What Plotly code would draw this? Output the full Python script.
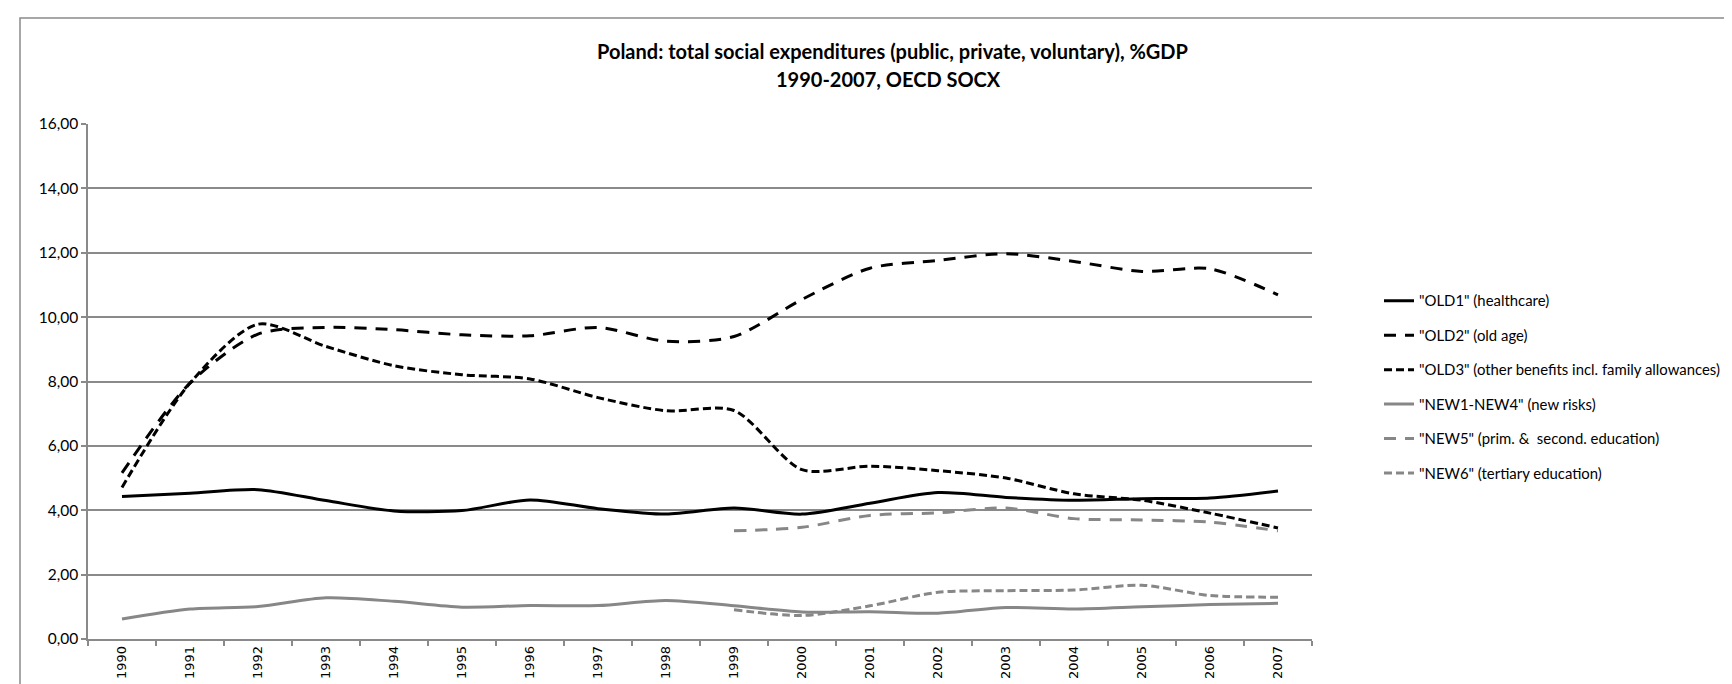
import plotly.graph_objects as go

years = [str(y) for y in range(1990, 2008)]

old1_healthcare = [4.43, 4.53, 4.64, 4.30, 3.98, 3.99, 4.32, 4.05, 3.88, 4.07,
                   3.88, 4.22, 4.55, 4.40, 4.31, 4.36, 4.38, 4.60]
old2_old_age = [5.16, 7.95, 9.47, 9.68, 9.61, 9.45, 9.42, 9.68, 9.25, 9.40,
                10.55, 11.52, 11.76, 11.97, 11.73, 11.42, 11.50, 10.69]
old3_other = [4.71, 7.95, 9.78, 9.09, 8.49, 8.21, 8.08, 7.50, 7.09, 7.10,
              5.26, 5.37, 5.23, 5.00, 4.51, 4.31, 3.91, 3.45]
new1_4_new_risks = [0.62, 0.93, 1.01, 1.28, 1.17, 0.99, 1.04, 1.04, 1.20, 1.03,
                    0.84, 0.85, 0.80, 0.98, 0.93, 1.00, 1.07, 1.11]
new5_prim_second = [None] * 9 + [3.36, 3.47, 3.84, 3.92, 4.07, 3.74, 3.70, 3.63, 3.36]
new6_tertiary = [None] * 9 + [0.91, 0.73, 1.03, 1.45, 1.50, 1.52, 1.67, 1.35, 1.30]

series_names = [
    '"OLD1" (healthcare)',
    '"OLD2" (old age)',
    '"OLD3" (other benefits incl. family allowances)',
    '"NEW1-NEW4" (new risks)',
    '"NEW5" (prim. &  second. education)',
    '"NEW6" (tertiary education)',
]
series_values = [old1_healthcare, old2_old_age, old3_other,
                 new1_4_new_risks, new5_prim_second, new6_tertiary]

title_line1 = "Poland: total social expenditures (public, private, voluntary), %GDP"
title_line2 = "1990-2007, OECD SOCX"

BLACK = "#000000"
GRAY = "#878787"
styles = [
    (BLACK, "solid"),
    (BLACK, "12px,9px"),
    (BLACK, "8px,4px"),
    (GRAY, "solid"),
    (GRAY, "12px,9px"),
    (GRAY, "8px,4px"),
]

fig = go.Figure()
for i, (name, vals) in enumerate(zip(series_names, series_values)):
    color, dash = styles[i]
    fig.add_trace(go.Scatter(
        x=years, y=vals, name=name, mode="lines",
        line=dict(color=color, width=3, dash=dash, shape="spline", smoothing=0.8),
        legendgroup=f"g{i}", connectgaps=False,
    ))

W, H = 1732, 684
L, R, T, B = 80, 428, 116, 53
pw, ph = W - L - R, H - T - B


def px_to_paper_x(px):
    return (px - L) / pw


def px_to_paper_y(py):
    return (H - B - py) / ph


AXIS_GRAY = "#8a8a8a"

fig.update_layout(
    width=W, height=H,
    margin=dict(l=L, r=R, t=T, b=B, autoexpand=False),
    paper_bgcolor="white", plot_bgcolor="white",
    separators=",.",
    showlegend=True,
    legend=dict(
        x=px_to_paper_x(1371), xanchor="left",
        y=px_to_paper_y(379), yanchor="middle",
        font=dict(family="Lato", size=14.9, color="#000000"),
        tracegroupgap=12.1, traceorder="grouped",
        bgcolor="rgba(0,0,0,0)",
    ),
    xaxis=dict(
        type="category", range=[-0.5, 17.5],
        showgrid=False, showline=True, linecolor=AXIS_GRAY, linewidth=1.5,
        ticks="outside", ticklen=5, tickcolor=AXIS_GRAY, tickwidth=1.5,
        tickson="boundaries", tickangle=-90,
        tickfont=dict(family="DejaVu Sans", size=13, color="#000000"),
        fixedrange=True,
    ),
    yaxis=dict(
        range=[0, 16], dtick=2, tick0=0, tickformat=".2f",
        showgrid=True, gridcolor=AXIS_GRAY, gridwidth=1.5,
        showline=True, linecolor=AXIS_GRAY, linewidth=1.5,
        ticks="outside", ticklen=5, tickcolor=AXIS_GRAY, tickwidth=1.5,
        tickfont=dict(family="Lato", size=15.5, color="#000000"),
        zeroline=False, fixedrange=True,
    ),
    shapes=[dict(
        type="rect", xref="paper", yref="paper",
        x0=px_to_paper_x(12), x1=px_to_paper_x(1730),
        y0=px_to_paper_y(690), y1=px_to_paper_y(10),
        line=dict(color=AXIS_GRAY, width=1.5), fillcolor="rgba(0,0,0,0)",
        layer="below",
    )],
    annotations=[
        dict(text=f"<b>{title_line1}</b>", xref="paper", yref="paper",
             x=px_to_paper_x(884), y=px_to_paper_y(43), xanchor="center", yanchor="middle",
             showarrow=False, font=dict(family="Lato", size=20, color="#000000")),
        dict(text=f"<b>{title_line2}</b>", xref="paper", yref="paper",
             x=px_to_paper_x(880), y=px_to_paper_y(71), xanchor="center", yanchor="middle",
             showarrow=False, font=dict(family="Lato", size=20, color="#000000")),
    ],
)

fig.write_html("out.html")
